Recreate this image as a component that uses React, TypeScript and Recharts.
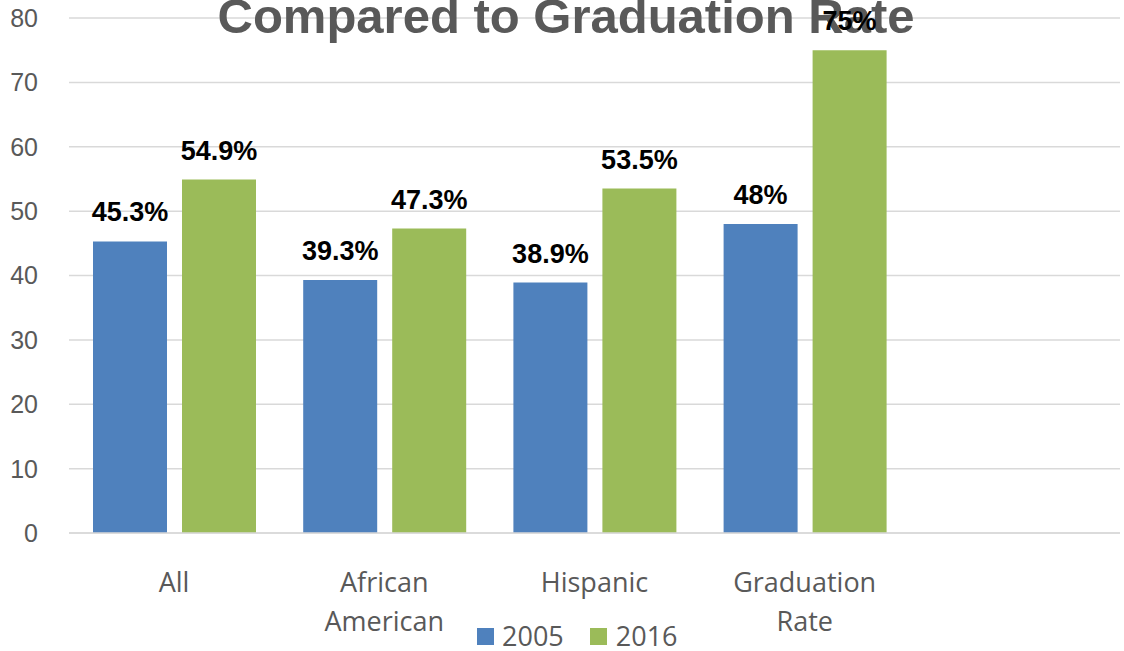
import { Bar, BarChart, CartesianGrid, Customized, LabelList, Legend, XAxis, YAxis } from 'recharts'

// chart values
const categories = ['All', 'African American', 'Hispanic', 'Graduation Rate', '']
const values2005: (number | null)[] = [45.3, 39.3, 38.9, 48, null]
const values2016: (number | null)[] = [54.9, 47.3, 53.5, 75, null]
const yTicks = [0, 10, 20, 30, 40, 50, 60, 70, 80]
const seriesNames = ['2005', '2016']
const title = 'Compared to Graduation Rate'

const BLUE = '#4F81BD'
const GREEN = '#9BBB59'
const GREY = '#595959'
const GRID = '#D9D9D9'

const data = categories.map((name, i) => ({ name, y2005: values2005[i], y2016: values2016[i] }))

const pct = (v: any) => (v === null || v === undefined ? '' : `${v}%`)

const CategoryTick = ({ x, y, payload }: any) => {
    const words = String(payload.value).split(' ').filter(Boolean)
    return (
        <text x={x} y={y} textAnchor="middle" fill={GREY} fontFamily="'Open Sans', sans-serif" fontSize={27}>
            {words.map((w, i) => (
                <tspan key={i} x={x} dy={i === 0 ? 59 : 39}>
                    {w}
                </tspan>
            ))}
        </text>
    )
}

const LegendBox = () => (
    <div
        style={{
            display: 'flex',
            alignItems: 'center',
            height: 30,
            fontFamily: "'Open Sans', sans-serif",
            fontSize: 27,
            lineHeight: '30px',
            color: GREY,
            whiteSpace: 'nowrap'
        }}
    >
        <span style={{ width: 17, height: 17, background: BLUE, marginRight: 8 }} />
        <span style={{ marginRight: 26 }}>{seriesNames[0]}</span>
        <span style={{ width: 17, height: 17, background: GREEN, marginRight: 9 }} />
        <span>{seriesNames[1]}</span>
    </div>
)

const Title = () => (
    <text
        x={566}
        y={33}
        textAnchor="middle"
        fill={GREY}
        fontFamily="'Liberation Sans', Arial, sans-serif"
        fontWeight="bold"
        fontSize={49}
    >
        {title}
    </text>
)

export default function App() {
    return (
        <div style={{ position: 'absolute', left: 0, top: 0, width: 1124, height: 651, background: '#fff' }}>
            <BarChart
                width={1124}
                height={651}
                data={data}
                margin={{ top: 18, right: 4, left: 0, bottom: 0 }}
                barSize={74}
                barGap={15}
            >
                <CartesianGrid vertical={false} stroke={GRID} strokeWidth={1.5} />
                <XAxis
                    dataKey="name"
                    height={88}
                    tickLine={false}
                    tickSize={0}
                    tickMargin={0}
                    axisLine={{ stroke: GRID, strokeWidth: 1.5 }}
                    tick={<CategoryTick />}
                    interval={0}
                />
                <YAxis
                    width={69}
                    domain={[0, 80]}
                    ticks={yTicks}
                    axisLine={false}
                    tickLine={false}
                    tickSize={0}
                    tickMargin={31}
                    tick={{ fill: GREY, fontSize: 25, fontFamily: "'Liberation Sans', Arial, sans-serif" }}
                />
                <Customized component={<Title />} />
                <Legend
                    verticalAlign="bottom"
                    content={<LegendBox />}
                    wrapperStyle={{ left: 477, top: 621, width: 230, height: 30 }}
                />
                <Bar dataKey="y2005" name={seriesNames[0]} fill={BLUE} isAnimationActive={false}>
                    <LabelList
                        dataKey="y2005"
                        position="top"
                        offset={20}
                        formatter={pct}
                        fill="#000"
                        fontSize={27}
                        fontWeight="bold"
                        fontFamily="'Liberation Sans', Arial, sans-serif"
                    />
                </Bar>
                <Bar dataKey="y2016" name={seriesNames[1]} fill={GREEN} isAnimationActive={false}>
                    <LabelList
                        dataKey="y2016"
                        position="top"
                        offset={20}
                        formatter={pct}
                        fill="#000"
                        fontSize={27}
                        fontWeight="bold"
                        fontFamily="'Liberation Sans', Arial, sans-serif"
                    />
                </Bar>
            </BarChart>
        </div>
    )
}
